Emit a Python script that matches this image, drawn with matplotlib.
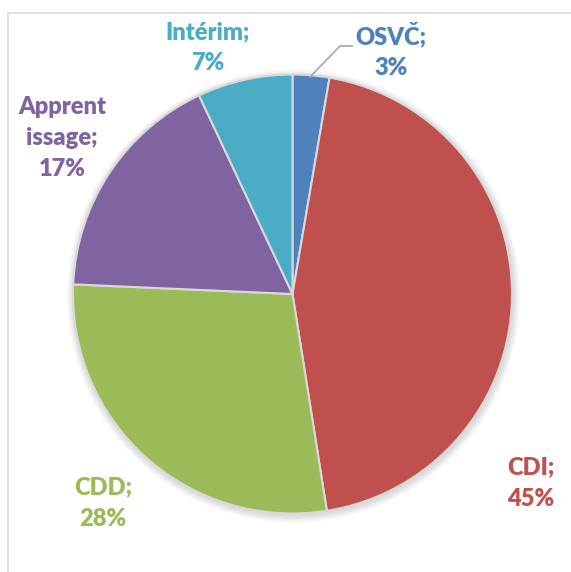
import matplotlib
matplotlib.use("Agg")
import matplotlib.pyplot as plt
from matplotlib.patches import Circle, Rectangle

# contract types share (percent)
categories = ['OSVČ', 'CDI', 'CDD', 'Apprentissage', 'Intérim']
display_names = ['OSVČ', 'CDI', 'CDD', 'Apprent\nissage', 'Intérim']
values = [2.7, 44.8, 28.2, 17.3, 7.0]
colors = ['#4F81BD', '#C0504D', '#9BBB59', '#8064A2', '#4BACC6']

W, H = 571, 572

def py(y):
    # pixel row (from top) -> data y
    return H - y

fig = plt.figure(figsize=(W / 100, H / 100), dpi=100)
ax = fig.add_axes([0, 0, 1, 1])

# chart area frame (cropped on right and bottom)
ax.add_patch(Rectangle((8, py(13) - 700), 700, 700, fill=False,
                       edgecolor='#D9D9D9', linewidth=1.2))

cx, cy, r = 292.5, py(294), 219.5

# soft shadow
for i in range(6):
    ax.add_patch(Circle((cx + 1, cy - 2), r + 1 + i * 1.2, color='black',
                        alpha=0.025, linewidth=0, zorder=1))

wedges, _ = ax.pie(values, colors=colors, startangle=90, counterclock=False,
                   center=(cx, cy), radius=r, frame=True,
                   wedgeprops=dict(edgecolor='#D9D9D9', linewidth=1.5, zorder=2))
ax.set_xlim(0, W)
ax.set_ylim(0, H)
ax.set_aspect('equal')
ax.axis('off')

# label positions (pixel coords of text block centre)
label_pos = [(391, 51), (531, 483), (103, 503), (62, 138), (208, 48)]
for name, v, c, (lx, ly) in zip(display_names, values, colors, label_pos):
    ax.text(lx, py(ly), f"{name};\n{round(v):.0f}%", color=c,
            fontsize=17, fontweight=800, family=['Lato', 'DejaVu Sans'],
            ha='center', va='center', linespacing=1.5, zorder=5)

# leader line for OSVČ
ax.plot([310, 340, 352], [py(77), py(46), py(46)], color='#A6A6A6',
        linewidth=1.2, zorder=4)

fig.savefig('out.png', dpi=100)
